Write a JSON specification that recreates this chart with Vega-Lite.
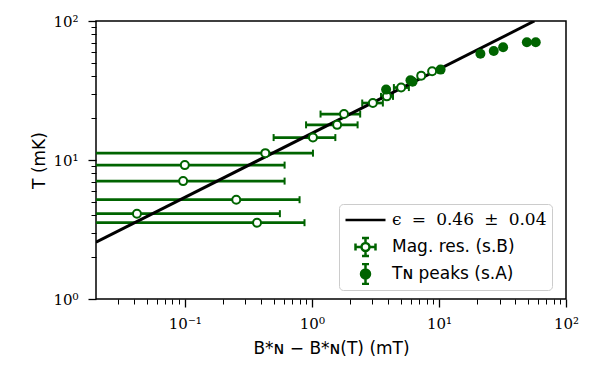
{
  "$schema": "https://vega.github.io/schema/vega-lite/v6.json",
  "width": 470,
  "height": 278,
  "autosize": {"type": "none"},
  "padding": {"left": 96, "top": 21, "right": 23, "bottom": 68},
  "background": "white",
  "config": {
    "view": {"stroke": "black", "strokeWidth": 1.5},
    "axis": {"grid": false, "domain": false, "tickColor": "black", "labelColor": "black", "titleColor": "black"}
  },
  "datasets": {
    "magres": [
      {"x": 0.43, "y": 11.2, "xlo": 0.001, "xhi": 1.02},
      {"x": 0.10, "y": 9.19, "xlo": 0.001, "xhi": 0.61},
      {"x": 0.097, "y": 7.05, "xlo": 0.001, "xhi": 0.61},
      {"x": 0.254, "y": 5.18, "xlo": 0.001, "xhi": 0.80},
      {"x": 0.042, "y": 4.11, "xlo": 0.001, "xhi": 0.56},
      {"x": 0.37, "y": 3.54, "xlo": 0.001, "xhi": 0.875},
      {"x": 1.02, "y": 14.5, "xlo": 0.50, "xhi": 1.53},
      {"x": 1.58, "y": 17.9, "xlo": 0.90, "xhi": 2.29},
      {"x": 1.79, "y": 21.4, "xlo": 1.17, "xhi": 2.40},
      {"x": 3.02, "y": 25.7, "xlo": 2.49, "xhi": 3.62},
      {"x": 3.89, "y": 28.7, "xlo": 3.5, "xhi": 4.35},
      {"x": 5.04, "y": 33.2, "xlo": 4.42, "xhi": 5.8},
      {"x": 7.25, "y": 40.4, "xlo": 6.9, "xhi": 7.6},
      {"x": 8.84, "y": 43.5, "xlo": 8.5, "xhi": 9.2}
    ],
    "peaks": [
      {"x": 3.84, "y": 32.1},
      {"x": 5.97, "y": 37.4},
      {"x": 6.2, "y": 36.6},
      {"x": 10.3, "y": 44.7},
      {"x": 21.2, "y": 58.2},
      {"x": 27.0, "y": 60.8},
      {"x": 32.0, "y": 64.7},
      {"x": 49.2, "y": 70.3},
      {"x": 57.8, "y": 70.3}
    ],
    "fit": [
      {"x": 0.02, "y": 2.56, "series": "\u03f5\u2002\u200a=\u2002\u200a0.46\u2002\u200a\u00b1\u2002\u200a0.04"},
      {"x": 56.4, "y": 100, "series": "\u03f5\u2002\u200a=\u2002\u200a0.46\u2002\u200a\u00b1\u2002\u200a0.04"}
    ]
  },
  "resolve": {"axis": {"x": "independent", "y": "independent"}},
  "layer": [
    {
      "data": {"name": "magres"},
      "mark": {"type": "rule", "color": "#006400", "strokeWidth": 2.7, "clip": true},
      "encoding": {
        "x": {
          "field": "xlo", "type": "quantitative",
          "scale": {"type": "log", "domain": [0.02, 100], "nice": false},
          "axis": {
            "orient": "bottom", "title": null, "labels": false, "tickSize": 5, "tickWidth": 1,
            "values": [0.03, 0.04, 0.05, 0.06, 0.07, 0.08, 0.09, 0.2, 0.3, 0.4, 0.5, 0.6, 0.7, 0.8, 0.9, 2, 3, 4, 5, 6, 7, 8, 9, 20, 30, 40, 50, 60, 70, 80, 90]
          }
        },
        "x2": {"field": "xhi"},
        "y": {
          "field": "y", "type": "quantitative",
          "scale": {"type": "log", "domain": [1, 100], "nice": false},
          "axis": {
            "orient": "left", "title": null, "labels": false, "tickSize": 5, "tickWidth": 1,
            "values": [2, 3, 4, 5, 6, 7, 8, 9, 20, 30, 40, 50, 60, 70, 80, 90]
          }
        }
      }
    },
    {
      "data": {"name": "magres"},
      "mark": {"type": "tick", "orient": "vertical", "size": 7, "thickness": 2, "color": "#006400", "opacity": 1, "clip": true},
      "encoding": {
        "x": {"field": "xhi", "type": "quantitative", "scale": {"type": "log", "domain": [0.02, 100], "nice": false}, "axis": null},
        "y": {"field": "y", "type": "quantitative", "scale": {"type": "log", "domain": [1, 100], "nice": false}, "axis": null}
      }
    },
    {
      "data": {"name": "magres"},
      "mark": {"type": "tick", "orient": "vertical", "size": 7, "thickness": 2, "color": "#006400", "opacity": 1, "clip": true},
      "encoding": {
        "x": {"field": "xlo", "type": "quantitative", "scale": {"type": "log", "domain": [0.02, 100], "nice": false}, "axis": null},
        "y": {"field": "y", "type": "quantitative", "scale": {"type": "log", "domain": [1, 100], "nice": false}, "axis": null}
      }
    },
    {
      "data": {"name": "fit"},
      "mark": {"type": "line", "strokeWidth": 3, "clip": true},
      "encoding": {
        "x": {
          "field": "x", "type": "quantitative",
          "scale": {"type": "log", "domain": [0.02, 100], "nice": false},
          "axis": {
            "orient": "bottom", "values": [0.1, 1, 10, 100],
            "labelExpr": "datum.value < 0.5 ? '10\u207b\u00b9' : datum.value < 5 ? '10\u2070' : datum.value < 50 ? '10\u00b9' : '10\u00b2'",
            "labelFont": "DejaVu Serif", "labelFontSize": 15, "labelPadding": 9,
            "labelFlush": false, "labelOverlap": false,
            "tickSize": 8, "tickWidth": 1.3,
            "title": "B*\u0274 \u2212 B*\u0274(T) (mT)",
            "titleFont": "DejaVu Sans", "titleFontSize": 17, "titleFontWeight": "normal", "titlePadding": 9
          }
        },
        "y": {
          "field": "y", "type": "quantitative",
          "scale": {"type": "log", "domain": [1, 100], "nice": false},
          "axis": {
            "orient": "left", "values": [1, 10, 100],
            "labelExpr": "datum.value < 5 ? '10\u2070' : datum.value < 50 ? '10\u00b9' : '10\u00b2'",
            "labelFont": "DejaVu Serif", "labelFontSize": 15, "labelPadding": 10,
            "labelFlush": false, "labelOverlap": false,
            "tickSize": 8, "tickWidth": 1.3,
            "title": "T (mK)",
            "titleFont": "DejaVu Sans", "titleFontSize": 17, "titleFontWeight": "normal", "titlePadding": 4
          }
        },
        "color": {
          "field": "series", "type": "nominal",
          "scale": {
            "domain": ["\u03f5\u2002\u200a=\u2002\u200a0.46\u2002\u200a\u00b1\u2002\u200a0.04", "Mag. res. (s.B)", "T\u0274 peaks (s.A)"],
            "range": ["black", "#006400", "#006400"]
          },
          "legend": {
            "title": null,
            "orient": "none", "legendX": 243, "legendY": 183,
            "padding": 5, "fillColor": "rgba(255,255,255,0.85)", "strokeColor": "#cccccc", "cornerRadius": 4,
            "symbolSize": 400, "symbolStrokeWidth": 2.5, "symbolOpacity": 1, "symbolOffset": 10, "labelOffset": 15,
            "clipHeight": 22, "rowPadding": 5,
            "labelFontSize": 17, "labelFont": "DejaVu Sans", "labelColor": "black", "labelLimit": 0,
            "encode": {
              "symbols": {
                "update": {
                  "shape": {"signal": "indexof(datum.value, 'Mag') >= 0 ? 'M-1,-0.35V0.35M-1,0H-0.4M0.4,0H1M1,-0.35V0.35M-0.35,-0.9H0.35M0,-0.9V-0.4M0,0.4V0.9M-0.35,0.9H0.35M0.4,0A0.4,0.4,0,1,1,-0.4,0A0.4,0.4,0,1,1,0.4,0Z' : indexof(datum.value, 'peaks') >= 0 ? 'M-0.35,-1H0.35M0,-1V1M-0.35,1H0.35M0.45,0A0.45,0.45,0,1,1,-0.45,0A0.45,0.45,0,1,1,0.45,0Z' : 'M-2,0H2'"},
                  "fill": {"signal": "indexof(datum.value, 'Mag') >= 0 ? 'white' : indexof(datum.value, 'peaks') >= 0 ? '#006400' : 'transparent'"},
                  "stroke": {"signal": "indexof(datum.value, 'Mag') >= 0 || indexof(datum.value, 'peaks') >= 0 ? '#006400' : 'black'"}
                }
              },
              "labels": {
                "update": {
                  "font": {"signal": "indexof(datum.value, '0.46') >= 0 ? 'DejaVu Serif' : 'DejaVu Sans'"}
                }
              }
            }
          }
        }
      }
    },
    {
      "data": {"name": "magres"},
      "mark": {"type": "point", "shape": "circle", "filled": false, "fill": "white", "stroke": "#006400", "strokeWidth": 2, "size": 64, "opacity": 1},
      "encoding": {
        "x": {"field": "x", "type": "quantitative", "scale": {"type": "log", "domain": [0.02, 100], "nice": false}, "axis": null},
        "y": {"field": "y", "type": "quantitative", "scale": {"type": "log", "domain": [1, 100], "nice": false}, "axis": null}
      }
    },
    {
      "data": {"name": "peaks"},
      "mark": {"type": "point", "shape": "circle", "filled": true, "color": "#006400", "size": 100, "opacity": 1},
      "encoding": {
        "x": {"field": "x", "type": "quantitative", "scale": {"type": "log", "domain": [0.02, 100], "nice": false}, "axis": null},
        "y": {"field": "y", "type": "quantitative", "scale": {"type": "log", "domain": [1, 100], "nice": false}, "axis": null}
      }
    }
  ]
}
